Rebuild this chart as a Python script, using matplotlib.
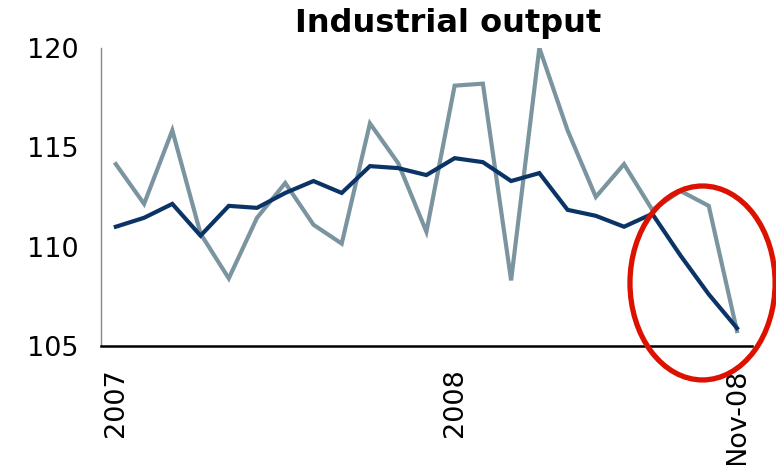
import matplotlib.pyplot as plt
from matplotlib.patches import Ellipse

months = list(range(23))  # Jan 2007 .. Nov 2008
tick_pos = [0, 12, 22]
tick_labels = ["2007", "2008", "Nov-08"]

navy_vals = [111.0, 111.45, 112.15, 110.55, 112.05, 111.95, 112.7, 113.3, 112.7,
             114.05, 113.95, 113.6, 114.45, 114.25, 113.3, 113.7, 111.85, 111.55,
             111.0, 111.65, 109.55, 107.6, 105.9]
gray_vals = [114.15, 112.15, 115.85, 110.65, 108.4, 111.45, 113.2, 111.1, 110.15,
             116.2, 114.2, 110.75, 118.1, 118.2, 108.3, 120.0, 115.85, 112.5,
             114.15, 111.85, 112.8, 112.05, 105.75]

fig = plt.figure(figsize=(7.76, 4.65), dpi=100)
ax = fig.add_axes([0.130, 0.256, 0.839, 0.641])

ax.plot(months, gray_vals, color="#7b95a0", lw=3, solid_joinstyle="miter", zorder=2)
ax.plot(months, navy_vals, color="#0b3466", lw=3, solid_joinstyle="miter", zorder=3)

ax.set_xlim(-0.53, 22.53)
ax.set_ylim(105, 120)
ax.set_yticks([105, 110, 115, 120])
ax.set_xticks(tick_pos)
ax.set_xticklabels(tick_labels, rotation=90, va="top", ha="center")
ax.tick_params(axis="both", length=0, labelsize=19.5, pad=16)

for s in ["top", "right"]:
    ax.spines[s].set_visible(False)
ax.spines["left"].set_color("#888888")
ax.spines["left"].set_linewidth(1)
ax.spines["bottom"].set_color("black")
ax.spines["bottom"].set_linewidth(1.8)

# red circle highlighting the latest fall
ell = Ellipse((20.78, 108.17), 5.14, 9.76, fill=False, edgecolor="#dd1100",
              lw=3.8, clip_on=False, zorder=4)
ax.add_patch(ell)

fig.text(0.578, 0.95, "Industrial output", ha="center", va="center",
         fontsize=23, fontweight="bold")

fig.savefig("out.png", dpi=100)
